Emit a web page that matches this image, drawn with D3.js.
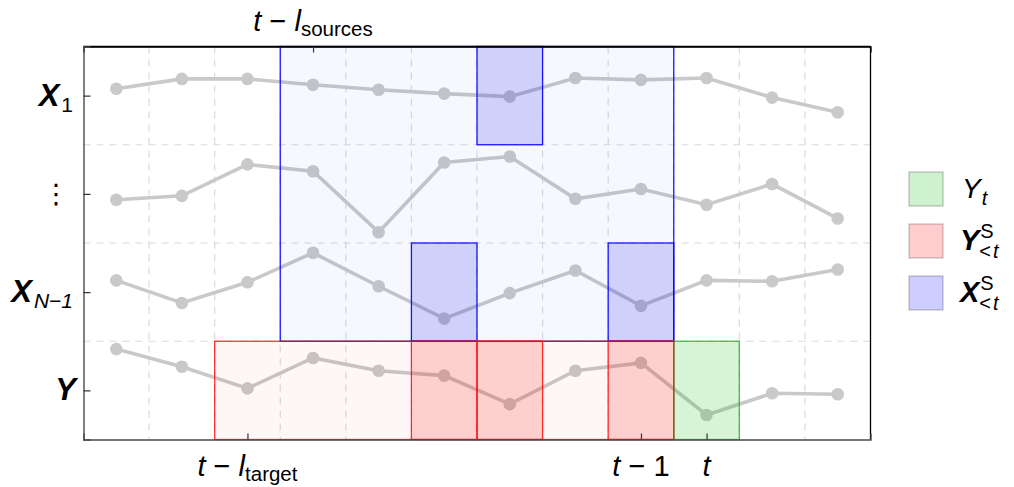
<!DOCTYPE html>
<html><head><meta charset="utf-8">
<script src="https://cdn.jsdelivr.net/npm/d3@7"></script>
<style>
html,body{margin:0;padding:0;background:#fff;}
svg text{font-family:"Liberation Sans",Arial,Helvetica,sans-serif;}
</style></head>
<body><svg id="chart" width="1014" height="487"></svg>
<script>
// ---------- data ----------
const timeSteps = [1,2,3,4,5,6,7,8,9,10,11,12];
const rowNames = ["Y","XN1","dots","X1"];           // bottom to top
const seriesX1   = [0.07, 0.17, 0.17, 0.11, 0.06, 0.02, -0.01, 0.18, 0.16, 0.18, -0.02, -0.17];
const seriesDots = [-0.06, -0.02, 0.30, 0.23, -0.39, 0.32, 0.38, -0.05, 0.05, -0.11, 0.10, -0.25];
const seriesXN1  = [0.12, -0.11, 0.10, 0.40, 0.06, -0.27, -0.01, 0.22, -0.14, 0.12, 0.11, 0.23];
const seriesY    = [0.42, 0.24, 0.02, 0.33, 0.20, 0.15, -0.14, 0.20, 0.28, -0.25, -0.03, -0.04];
const sourceWindowSteps = [4,9];     // t - l_sources .. t-1, rows X
const targetWindowSteps = [3,9];     // t - l_target .. t-1, row Y
const sourceCells = [[7,"X1"],[6,"XN1"],[9,"XN1"]];
const targetCells = [6,7,9];
const presentStep = 10;
const bottomTickSteps = [3,9,10];
const topTickSteps = [4];
const legendKeys = ["Yt","Ylt","Xlt"];

// ---------- layout ----------
const svg = d3.select("#chart");
const x = d3.scaleLinear().domain([0.5,12.5]).range([83.5,870.5]);
const y = d3.scaleLinear().domain([0,4]).range([439.5,46.5]);
const rowIdx = n => rowNames.indexOf(n);

// grid
const g = svg.append("g");
g.selectAll("line.vg").data(d3.range(1.5,12,1)).join("line")
  .attr("x1",d=>x(d)).attr("x2",d=>x(d)).attr("y1",y(4)).attr("y2",y(0))
  .attr("stroke","#dadada").attr("stroke-width",1.2).attr("stroke-dasharray","7,6");
g.selectAll("line.hg").data([1,2,3]).join("line")
  .attr("y1",d=>y(d)).attr("y2",d=>y(d)).attr("x1",x(0.5)).attr("x2",x(12.5))
  .attr("stroke","#dadada").attr("stroke-width",1.2).attr("stroke-dasharray","7,6");

// series
const series = [
  {row:"X1", v:seriesX1},{row:"dots", v:seriesDots},{row:"XN1", v:seriesXN1},{row:"Y", v:seriesY}];
const line = d3.line().x(d=>x(d[0])).y(d=>y(d[1]));
series.forEach(s=>{
  const pts = timeSteps.map((t,i)=>[t, rowIdx(s.row)+0.5+s.v[i]]);
  g.append("path").attr("d",line(pts)).attr("fill","none")
   .attr("stroke","#c9c9c9").attr("stroke-width",3.6);
  g.selectAll(null).data(pts).join("circle")
   .attr("cx",d=>x(d[0])).attr("cy",d=>y(d[1])).attr("r",6.3).attr("fill","#c9c9c9");
});

// windows
function cell(x0,x1,y0,y1,fill,stroke){
  g.append("rect").attr("x",x(x0)).attr("y",y(y1)).attr("width",x(x1)-x(x0)).attr("height",y(y0)-y(y1))
   .attr("fill",fill).attr("stroke",stroke).attr("stroke-width",1.3);
}
cell(sourceWindowSteps[0]-0.5, sourceWindowSteps[1]+0.5, 1, 4, "rgba(40,60,230,0.035)", "rgba(0,0,255,0.9)");
cell(targetWindowSteps[0]-0.5, targetWindowSteps[1]+0.5, 0, 1, "rgba(230,40,40,0.035)", "rgba(255,0,0,0.8)");
sourceCells.forEach(([t,r])=>cell(t-0.5,t+0.5,rowIdx(r),rowIdx(r)+1,"rgba(20,20,240,0.17)","rgba(0,0,255,0.9)"));
targetCells.forEach(t=>cell(t-0.5,t+0.5,0,1,"rgba(255,0,0,0.16)","rgba(255,0,0,0.8)"));
cell(presentStep-0.5,presentStep+0.5,0,1,"rgba(0,185,0,0.155)","rgba(20,170,20,0.75)");

// frame
const fr = svg.append("g");
fr.append("line").attr("x1",x(0.5)).attr("x2",x(12.5)).attr("y1",y(4)).attr("y2",y(4)).attr("stroke","#000").attr("stroke-width",1.3);
fr.append("line").attr("x1",x(12.5)).attr("x2",x(12.5)).attr("y1",y(4)).attr("y2",y(0)).attr("stroke","#000").attr("stroke-width",1.3);

// axes (ticks inward)
const axB = svg.append("g").attr("transform",`translate(0,${y(0)})`)
  .call(d3.axisBottom(x).tickValues(bottomTickSteps).tickSize(-6).tickFormat(""));
const axT = svg.append("g").attr("transform",`translate(0,${y(4)})`)
  .call(d3.axisTop(x).tickValues(topTickSteps).tickSize(-6).tickFormat(""));
const axL = svg.append("g").attr("transform",`translate(${x(0.5)},0)`)
  .call(d3.axisLeft(y).tickValues([0.5,1.5,2.5,3.5]).tickSize(-7).tickFormat(""));
[axB,axL].forEach(a=>{a.select(".domain").attr("stroke","#4a4a4a").attr("stroke-width",1.4);
  a.selectAll(".tick line").attr("stroke","#333").attr("stroke-width",1.2);});
axT.select(".domain").attr("stroke","#000").attr("stroke-width",1.3);
axT.selectAll(".tick line").attr("stroke","#333").attr("stroke-width",1.2);

// ---------- rich text helper ----------
const F = 29, S = 20.5;
function rich(parent, xpos, ypos, parts, anchor){
  const t = parent.append("text").attr("x",xpos).attr("y",ypos).attr("fill","#000")
    .attr("text-anchor",anchor||"start");
  let cur = 0;
  parts.forEach(p=>{
    const ts = t.append("tspan").text(p.s).attr("font-size",p.size||F)
      .attr("font-style",p.it?"italic":"normal").attr("font-weight",p.b?"bold":"normal")
      .attr("dy",(p.dy||0)-cur);
    if(p.dx) ts.attr("dx",p.dx);
    if(p.fam) ts.style("font-family",p.fam);
    cur = p.dy||0;
  });
  return t;
}

// left labels
rich(svg, 73, y(3.5)+10, [{s:"X",it:1,b:1,size:31},{s:"1",size:21,dy:6,dx:2}],"end");
rich(svg, 56, y(2.5)+9, [{s:"\u22EE",size:27,fam:"DejaVu Sans"}],"middle");
rich(svg, 73, y(1.5)+10, [{s:"X",it:1,b:1,size:31},{s:"N\u22121",it:1,size:21,dy:6,dx:2}],"end");
rich(svg, 76, y(0.5)+10, [{s:"Y",it:1,b:1,size:31}],"end");

// top tick label
rich(svg, x(topTickSteps[0]), 31, [{s:"t",it:1},{s:" \u2212 "},{s:"l",it:1},{s:"sources",size:S,dy:5}],"middle");
// bottom tick labels
const bottomLabels = [
  [{s:"t",it:1},{s:" \u2212 "},{s:"l",it:1},{s:"target",size:S,dy:5}],
  [{s:"t",it:1},{s:" \u2212 1"}],
  [{s:"t",it:1}]];
bottomTickSteps.forEach((t,i)=>rich(svg, x(t), 476, bottomLabels[i], "middle"));

// ---------- legend ----------
const legFill = {Yt:"#cdf2cd", Ylt:"#ffcdcd", Xlt:"#cdcdff"};
const lg = svg.append("g");
legendKeys.forEach((k,i)=>{
  const yy = 172 + i*52;
  lg.append("rect").attr("x",909).attr("y",yy).attr("width",34).attr("height",34)
    .attr("fill",legFill[k]).attr("stroke","rgba(0,0,0,0.22)").attr("stroke-width",1.3);
  const base = yy+26;
  if(k==="Yt"){
    rich(lg, 962, base, [{s:"Y",it:1,size:28},{s:"t",it:1,size:20,dy:7,dx:1}]);
  } else {
    const m = rich(lg, 960, base, [{s:k==="Ylt"?"Y":"X",it:1,b:1,size:29}]);
    const w = m.node().getComputedTextLength();
    rich(lg, 960+w+1, base-12, [{s:"S",size:20}]);
    rich(lg, 960+w, base+8, [{s:"<",size:20},{s:"t",it:1,size:20,dx:2}]);
  }
});
</script></body></html>
